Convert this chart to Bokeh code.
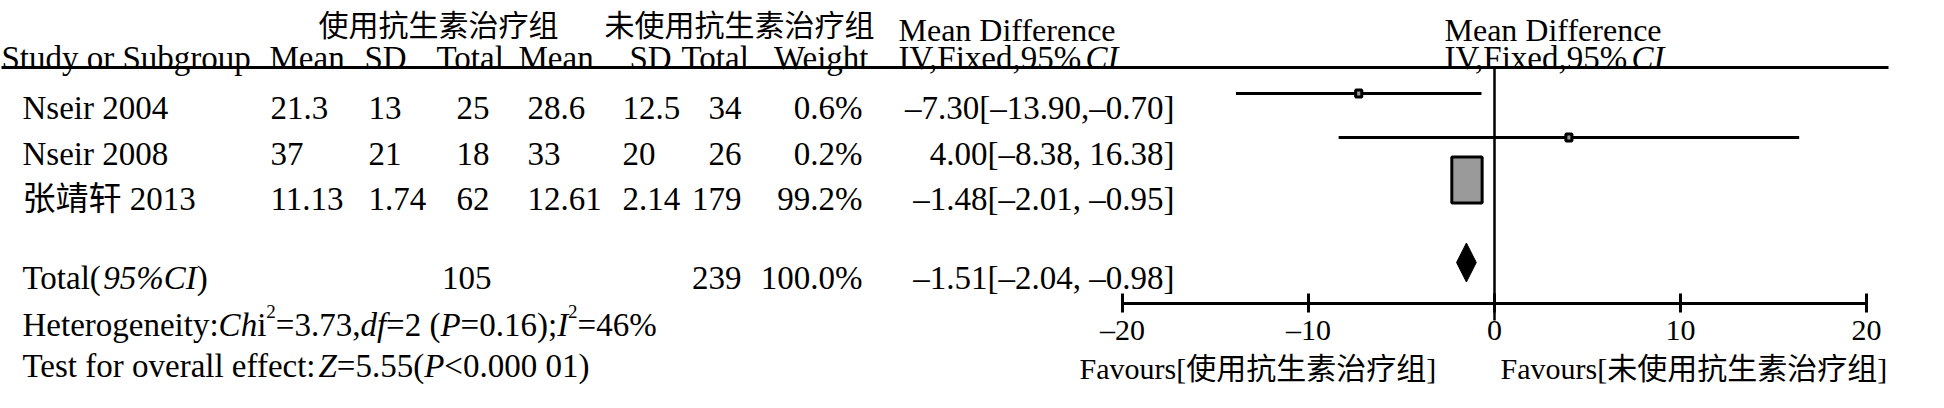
from bokeh.plotting import figure
from bokeh.models import Range1d, LinearAxis, FixedTicker, ColumnDataSource
from bokeh.embed import file_html
from bokeh.resources import INLINE

# ---------------- data ----------------
studies = ["Nseir 2004", "Nseir 2008", "张靖轩 2013"]
exp_mean = [21.3, 37, 11.13]
exp_sd = [13, 21, 1.74]
exp_total = [25, 18, 62]
ctl_mean = [28.6, 33, 12.61]
ctl_sd = [12.5, 20, 2.14]
ctl_total = [34, 26, 179]
weights = [0.6, 0.2, 99.2]
md = [-7.30, 4.00, -1.48]
ci_low = [-13.90, -8.38, -2.01]
ci_high = [-0.70, 16.38, -0.95]
ci_sep = [",", ", ", ", "]
total_exp = 105
total_ctl = 239
total_weight = 100.0
total_md = -1.51
total_low = -2.04
total_high = -0.98
het_chi2 = "3.73"
het_df = "2"
het_p = "0.16"
het_i2 = "46"
eff_z = "5.55"
eff_p = "0.000 01"
axis_ticks = [-20, -10, 0, 10, 20]
exp_group = "使用抗生素治疗组"
ctl_group = "未使用抗生素治疗组"
favours_left = "Favours[使用抗生素治疗组]"
favours_right = "Favours[未使用抗生素治疗组]"

# ---------------- styling / layout ----------------
SERIF = "Liberation Serif, Noto Sans CJK SC"
CJK = "Noto Sans CJK SC"
FS = 33  # main font size in px

def dash(s):
    return s.replace("-", "\u2013")

def fmt(v):
    return dash(f"{v:.2f}")

# Times / Liberation Serif advance widths (per 1000 em)
REG = {' ': 250, '%': 833, '(': 333, ')': 333, ',': 250, '.': 250, ':': 278, ';': 278,
       '<': 564, '=': 564, '[': 333, ']': 333, '\u2013': 500, 'H': 722, 'T': 611,
       'I': 333, 'V': 722, 'F': 556, 'a': 444, 'c': 444, 'd': 500, 'e': 444, 'f': 333,
       'g': 500, 'i': 278, 'l': 278, 'n': 500, 'o': 500, 'r': 333, 's': 389, 't': 278,
       'v': 500, 'x': 500, 'y': 500}
ITA = {'C': 667, 'h': 500, 'd': 500, 'f': 278, 'P': 611, 'I': 333, 'Z': 556, '%': 833}

def text_w(s, style, size):
    tab = ITA if style == "italic" else REG
    return sum(tab.get(ch, 500) for ch in s) * size / 1000.0

# the figure sits at (8, 8) on the page; coordinates below are page pixels
W, H = 1920, 384
X0, Y0 = 8, 8
ZERO_PX, PX_PER_UNIT = 1502, 18.6
p = figure(width=W, height=H, output_backend="svg", toolbar_location=None,
           x_range=Range1d((X0 - ZERO_PX) / PX_PER_UNIT, (X0 + W - ZERO_PX) / PX_PER_UNIT),
           y_range=Range1d(Y0 + H, Y0), x_axis_type=None, y_axis_type=None,
           min_border=0, outline_line_color=None)
p.extra_x_ranges = {"px": Range1d(X0, X0 + W)}
p.xgrid.visible = False
p.ygrid.visible = False

runs = dict(x=[], y=[], text=[], style=[], size=[], align=[], font=[], base=[])

def put(x, y, s, style="normal", size=FS, align="left", font=SERIF, base="alphabetic"):
    runs["x"].append(x); runs["y"].append(y); runs["text"].append(s)
    runs["style"].append(style); runs["size"].append(f"{size}px")
    runs["align"].append(align); runs["font"].append(font); runs["base"].append(base)

def put_seq(x, y, seq):
    for s, style, sz, rise in seq:
        put(x, y - rise, s, style, sz)
        x += text_w(s, style, sz)

# header row 1
put(446, 30, exp_group, size=30, font=CJK, align="center", base="middle")
put(612, 30, ctl_group, size=30, font=CJK, base="middle")
put(906, 37, "Mean Difference", size=32)
put(1452, 37, "Mean Difference", size=32)

# header row 2
HB = 65
put(9, HB, "Study or Subgroup")
put(277, HB, "Mean"); put(372, HB, "SD"); put(444, HB, "Total")
put(526, HB, "Mean"); put(637, HB, "SD"); put(689, HB, "Total")
put(876, HB, "Weight", align="right")
put_seq(906, HB, [("IV,Fixed,95%", "normal", FS, 0), ("CI", "italic", FS, 0)])
put_seq(1452, HB, [("IV,Fixed,95%", "normal", FS, 0), ("CI", "italic", FS, 0)])

# study rows
text_base = [115, 161, 206]
for i in range(len(studies)):
    yb = text_base[i]
    put(30, yb, studies[i])
    put(278, yb, str(exp_mean[i]))
    put(376, yb, str(exp_sd[i]))
    put(497, yb, str(exp_total[i]), align="right")
    put(535, yb, str(ctl_mean[i]))
    put(630, yb, str(ctl_sd[i]))
    put(749, yb, str(ctl_total[i]), align="right")
    put(870, yb, f"{weights[i]}%", align="right")
    put(1182, yb, f"{fmt(md[i])}[{fmt(ci_low[i])}{ci_sep[i]}{fmt(ci_high[i])}]", align="right")

# total row
TB = 285
put_seq(30, TB, [("Total(", "normal", FS, 0), ("95%CI", "italic", FS, 0), (")", "normal", FS, 0)])
put(499, TB, str(total_exp), align="right")
put(749, TB, str(total_ctl), align="right")
put(870, TB, f"{total_weight:.1f}%", align="right")
put(1182, TB, f"{fmt(total_md)}[{fmt(total_low)}, {fmt(total_high)}]", align="right")

# heterogeneity / overall effect
SUP = 19
put_seq(30, 332, [("Heterogeneity:", "normal", FS, 0), ("Ch", "italic", FS, 0), ("i", "normal", FS, 0),
                  ("2", "normal", SUP, 13), (f"={het_chi2},", "normal", FS, 0), ("df", "italic", FS, 0),
                  (f"={het_df} (", "normal", FS, 0), ("P", "italic", FS, 0), (f"={het_p});", "normal", FS, 0),
                  ("I", "italic", FS, 0), ("2", "normal", SUP, 13), (f"={het_i2}%", "normal", FS, 0)])
put_seq(30, 373, [("Test for overall effect:", "normal", FS, 0), ("Z", "italic", FS, 0),
                  (f"={eff_z}(", "normal", FS, 0), ("P", "italic", FS, 0), (f"<{eff_p})", "normal", FS, 0)])

# favours
put(1087, 376, favours_left, size=30)
put(1508, 376, favours_right, size=30)

src = ColumnDataSource(runs)
p.text(x="x", y="y", text="text", source=src, x_range_name="px",
       text_font="font", text_font_size="size", text_font_style="style",
       text_align="align", text_baseline="base", text_color="black")

# header rule
p.segment(x0=[9], y0=[75], x1=[1896], y1=[75], x_range_name="px",
          line_color="black", line_width=3)

# line of no effect
p.segment(x0=[0], y0=[76], x1=[0], y1=[328], line_color="black", line_width=2.5)

# CI lines and boxes
marker_y = [101, 145, 187.5]
p.segment(x0=ci_low, y0=marker_y, x1=ci_high, y1=marker_y, line_color="black", line_width=3)
box_w = [6 + 0.245 * w for w in weights]
box_h = [7 + 0.395 * w for w in weights]
p.rect(x=md, y=marker_y, width=box_w, height=box_h, width_units="screen",
       height_units="screen", fill_color="#9a9a9a", line_color="black", line_width=3)

# pooled diamond
DY = 270
p.patch(x=[total_low, total_md, total_high, total_md], y=[DY, DY - 19.5, DY, DY + 19.5],
        fill_color="black", line_color="black", line_width=1)

# x axis placed inside the plot
ax = LinearAxis(ticker=FixedTicker(ticks=axis_ticks), fixed_location=311, bounds=(-20, 20))
ax.major_label_overrides = {t: dash(str(t)) for t in axis_ticks}
ax.axis_line_width = 3
ax.axis_line_color = "black"
ax.major_tick_line_width = 3
ax.major_tick_line_color = "black"
ax.major_tick_in = 10
ax.major_tick_out = 9
ax.minor_tick_in = 0
ax.minor_tick_out = 0
ax.major_label_standoff = 0
ax.major_label_text_font = "Liberation Serif"
ax.major_label_text_font_size = "30px"
ax.major_label_text_color = "black"
p.add_layout(ax, "below")

open("out.html", "w").write(file_html(p, INLINE))
